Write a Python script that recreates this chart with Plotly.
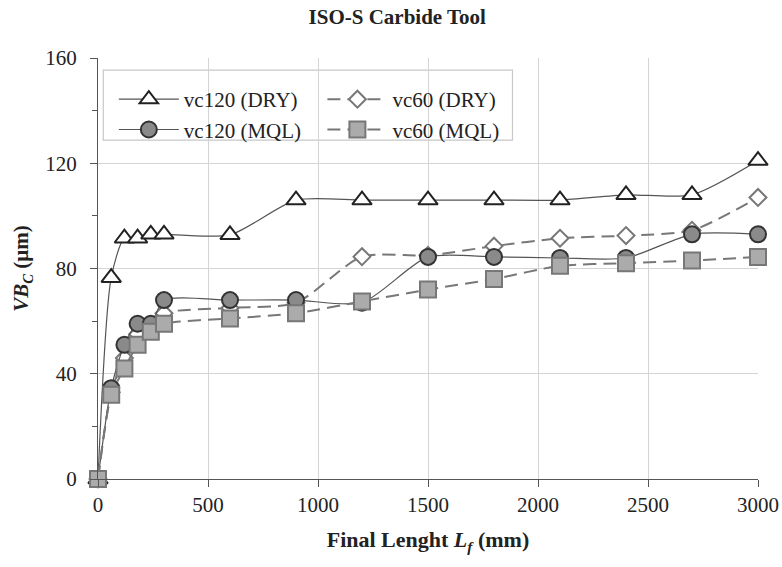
import plotly.graph_objects as go

length_mm = [0, 60, 120, 180, 240, 300, 600, 900, 1200, 1500, 1800, 2100, 2400, 2700, 3000]
vc120_dry = [0, 76.5, 91.5, 91.5, 93, 93, 92.8, 106, 106, 106, 106, 106, 108, 108, 121]
vc60_dry = [0, 33, 46, 55, 58, 63, 65, 67, 84.5, 85, 88.5, 91.5, 92.5, 94.5, 107]
vc120_mql = [0, 34.5, 51, 59, 59, 68, 68, 68, 67, 84.4, 84.4, 84, 84, 93, 93]
vc60_mql = [0, 32, 42, 51, 56, 59, 61, 63, 67.5, 72, 76, 81, 82, 83, 84.4]

FONT = "Liberation Serif"
TXT = "#222222"

fig = go.Figure()

fig.add_trace(go.Scatter(
    x=length_mm, y=vc120_dry, name="vc120 (DRY)", legend="legend", cliponaxis=False,
    mode="lines+markers", line=dict(color="#555555", width=1.2, shape="spline", smoothing=0.7),
    marker=dict(symbol="triangle-up", size=17, color="white", line=dict(color="#222222", width=2)),
))
fig.add_trace(go.Scatter(
    x=length_mm, y=vc60_dry, name="vc60 (DRY)", legend="legend2", cliponaxis=False,
    mode="lines+markers", line=dict(color="#777777", width=2, dash="13px,7px", shape="spline", smoothing=0.7),
    marker=dict(symbol="diamond", size=13, color="white", line=dict(color="#777777", width=2)),
))
fig.add_trace(go.Scatter(
    x=length_mm, y=vc120_mql, name="vc120 (MQL)", legend="legend", cliponaxis=False,
    mode="lines+markers", line=dict(color="#555555", width=1.2, shape="spline", smoothing=0.7),
    marker=dict(symbol="circle", size=16, color="#8a8a8a", line=dict(color="#333333", width=2)),
))
fig.add_trace(go.Scatter(
    x=length_mm, y=vc60_mql, name="vc60 (MQL)", legend="legend2", cliponaxis=False,
    mode="lines+markers", line=dict(color="#777777", width=2, dash="13px,7px", shape="spline", smoothing=0.7),
    marker=dict(symbol="square", size=16, color="#ababab", line=dict(color="#777777", width=2)),
))

fig.update_layout(
    width=782, height=567,
    margin=dict(l=98, r=24, t=58, b=88),
    paper_bgcolor="white", plot_bgcolor="white",
    font=dict(family=FONT, size=21, color=TXT),
    title=dict(text="<b>ISO-S Carbide Tool</b>", x=0.508, xanchor="center", y=0.97, yanchor="middle",
               font=dict(family=FONT, size=21, color=TXT)),
    legend=dict(x=0.024, y=0.95, xanchor="left", yanchor="top", bgcolor="rgba(0,0,0,0)",
                font=dict(family=FONT, size=21, color=TXT), itemwidth=60, tracegroupgap=0),
    legend2=dict(x=0.34, y=0.95, xanchor="left", yanchor="top", bgcolor="rgba(0,0,0,0)",
                 font=dict(family=FONT, size=21, color=TXT), itemwidth=60, tracegroupgap=0),
    shapes=[dict(type="rect", xref="paper", yref="paper", x0=0.008, x1=0.628, y0=0.805, y1=0.971,
                 line=dict(color="#c8c8c8", width=1.2), fillcolor="white", layer="below")],
)

fig.update_xaxes(
    range=[0, 3000], tickvals=[0, 500, 1000, 1500, 2000, 2500, 3000],
    showgrid=True, gridcolor="#d4d4d4", gridwidth=1,
    showline=True, linecolor="#555555", linewidth=1.2,
    ticks="outside", ticklen=7, tickcolor="#555555",
    tickfont=dict(family=FONT, size=21, color=TXT),
    title=dict(text="<b>Final Lenght <i>L<sub>f</sub></i> (mm)</b>", standoff=15,
               font=dict(family=FONT, size=22, color=TXT)),
    zeroline=False, automargin=False,
)
fig.update_yaxes(
    range=[0, 160], tickvals=[0, 40, 80, 120, 160],
    showgrid=True, gridcolor="#d4d4d4", gridwidth=1,
    showline=True, linecolor="#555555", linewidth=1.2,
    ticks="outside", ticklen=7, tickcolor="#555555",
    minor=dict(tickvals=[20, 60, 100, 140], ticks="outside", ticklen=5, tickcolor="#555555", showgrid=False),
    tickfont=dict(family=FONT, size=21, color=TXT), ticklabelstandoff=9,
    title=dict(text="<b><i>VB<sub>C</sub></i> (μm)</b>", standoff=10,
               font=dict(family=FONT, size=21, color=TXT)),
    zeroline=False, automargin=False,
)

fig.write_html("out.html", config={"displayModeBar": False},
               post_script="document.body.style.margin='0';")
